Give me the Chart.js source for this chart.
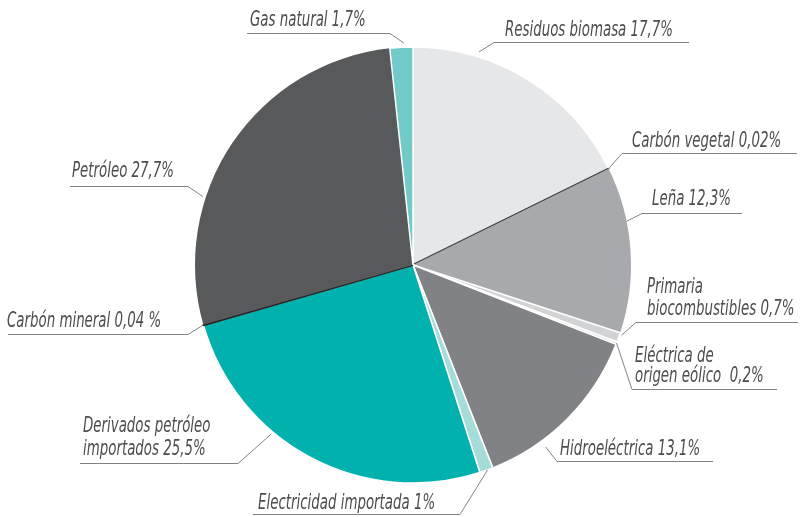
<!DOCTYPE html>
<html>
<head>
<meta charset="utf-8">
<script src="https://cdn.jsdelivr.net/npm/chart.js@4/dist/chart.umd.min.js"></script>
<style>
  html, body { margin: 0; padding: 0; background: #fff; }
  #wrap { width: 800px; height: 517px; position: relative; }
</style>
</head>
<body>
<div id="wrap"><canvas id="energyPie"></canvas></div>
<script>
// Oferta de energía por fuente (%), clockwise from 12 o'clock
const categories = [
    'Residuos biomasa', 'Carbón vegetal', 'Leña', 'Primaria biocombustibles',
    'Eléctrica de origen eólico', 'Hidroeléctrica', 'Electricidad importada',
    'Derivados petróleo importados', 'Carbón mineral', 'Petróleo', 'Gas natural'
];
const shares = [17.7, 0.02, 12.3, 0.7, 0.2, 13.1, 1, 25.5, 0.04, 27.7, 1.7];

// label text as printed (line breaks included)
const labelLines = [
    ['Residuos biomasa 17,7%'],
    ['Carbón vegetal 0,02%'],
    ['Leña 12,3%'],
    ['Primaria', 'biocombustibles 0,7%'],
    ['Eléctrica de', 'origen eólico  0,2%'],
    ['Hidroeléctrica 13,1%'],
    ['Electricidad importada 1%'],
    ['Derivados petróleo', 'importados 25,5%'],
    ['Carbón mineral 0,04 %'],
    ['Petróleo 27,7%'],
    ['Gas natural 1,7%']
];

const sliceColors = [
    '#e6e7e8', '#58595b', '#a7a9ac', '#d1d3d4', '#e6e7e8', '#808285',
    '#a5dbd9', '#00b1ad', '#231f20', '#58595b', '#71cac7'
];
// the two hairline slices show up as a dark rule; the slice drawn right
// after each of them gets no border so the rule isn't painted over
const sliceBorders = ['#fff', '#414042', '#fff', '#fff', '#fff', '#fff', '#fff', '#fff', '#231f20', '#fff', '#fff'];
const sliceBorderWidths = [1.5, 2, 0, 1.5, 1.5, 1.5, 1.5, 1.5, 2, 0, 1.5];

// callout layout: where on the slice the leader starts (fraction of the
// slice angle + gap beyond the rim), the elbow, the far end of the rule,
// and the text origin / baselines
const callouts = [
    { frac: 0.27, gap: 5, elbow: [494, 42],  end: 689, tx: 505, base: [36] },
    { frac: 0.5,  gap: 0, elbow: [622, 153], end: 797, tx: 632, base: [147] },
    { frac: 0.33, gap: 0, elbow: [642, 213], end: 742, tx: 652, base: [205] },
    { frac: 0.2,  gap: 2, elbow: [636, 322], end: 798, tx: 647, base: [293, 315] },
    { frac: 0.5,  gap: 0, elbow: [632, 389], end: 777, tx: 635, base: [362, 382] },
    { frac: 0.69, gap: 7, elbow: [557, 461], end: 713, tx: 560, base: [455] },
    { frac: 0.4,  gap: 0, elbow: [460, 514], end: 253, tx: 258, base: [509] },
    { frac: 0.63, gap: 3, elbow: [238, 463], end: 80,  tx: 83,  base: [432, 455] },
    { frac: 0.5,  gap: 0, elbow: [188, 334], end: 8,   tx: 7,   base: [327] },
    { frac: 0.34, gap: 3, elbow: [188, 186], end: 70,  tx: 72,  base: [177] },
    { frac: 0.62, gap: 4, elbow: [390, 33],  end: 247, tx: 250, base: [26] }
];

const LABEL_FONT = "italic 21px 'Liberation Sans Narrow', 'DejaVu Sans Condensed', sans-serif";
// the original uses a condensed face; squeeze so the first label spans its printed width
const FIT_LABEL = 'Residuos biomasa 17,7%';
const FIT_WIDTH = 168;

const calloutPlugin = {
    id: 'callouts',
    afterDatasetsDraw(chart) {
        const ctx = chart.ctx;
        const meta = chart.getDatasetMeta(0);
        ctx.save();
        ctx.strokeStyle = '#808285';
        ctx.lineWidth = 1;
        ctx.fillStyle = '#4d4d4f';
        ctx.font = LABEL_FONT;
        ctx.textBaseline = 'alphabetic';
        const squeeze = FIT_WIDTH / ctx.measureText(FIT_LABEL).width;
        callouts.forEach(function (c, i) {
            const p = meta.data[i].getProps(['x', 'y', 'startAngle', 'endAngle', 'outerRadius'], true);
            const a = p.startAngle + (p.endAngle - p.startAngle) * c.frac;
            const r = p.outerRadius + c.gap;
            const ax = p.x + Math.cos(a) * r;
            const ay = p.y + Math.sin(a) * r;

            ctx.beginPath();
            ctx.moveTo(ax, ay);
            ctx.lineTo(c.elbow[0], c.elbow[1] + 0.5);
            ctx.lineTo(c.end, c.elbow[1] + 0.5);
            ctx.stroke();

            labelLines[i].forEach(function (line, k) {
                ctx.save();
                ctx.translate(c.tx, c.base[k]);
                ctx.scale(squeeze, 1);
                ctx.fillText(line, 0, 0);
                ctx.restore();
            });
        });
        ctx.restore();
    }
};

new Chart(document.getElementById('energyPie'), {
    type: 'pie',
    data: {
        labels: categories,
        datasets: [{
            data: shares,
            backgroundColor: sliceColors,
            borderColor: sliceBorders,
            borderWidth: sliceBorderWidths
        }]
    },
    options: {
        responsive: true,
        maintainAspectRatio: false,
        animation: false,
        layout: { padding: { left: 194, right: 168, top: 46, bottom: 33 } },
        plugins: {
            legend: { display: false },
            tooltip: { enabled: false }
        }
    },
    plugins: [calloutPlugin]
});
</script>
</body>
</html>
